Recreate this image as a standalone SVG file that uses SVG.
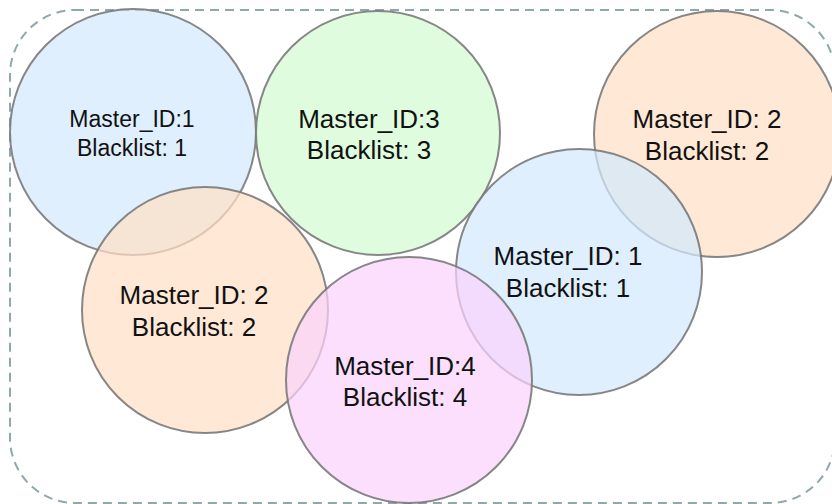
<svg xmlns="http://www.w3.org/2000/svg" width="832" height="504" viewBox="0 0 832 504">
<style>
.c{stroke:#7a7a7a;stroke-width:2;fill-opacity:0.72;stroke-opacity:0.9}
.b{fill:#d2e9fd}
.g{fill:#d4fbd2}
.o{fill:#ffdfc5}
.m{fill:#fad2fb}
text{font-family:"Liberation Sans",Arial,sans-serif;font-size:26px;fill:#111;text-anchor:middle}
.s{font-size:23px}
</style>
<rect x="0" y="0" width="832" height="504" fill="#ffffff"/>
<rect id="container" x="10" y="10" width="825" height="493" rx="65" ry="65" fill="none" stroke="#8fa9ab" stroke-width="2" stroke-dasharray="9 6"/>
<g id="node-blue1">
<circle class="c b" cx="133" cy="132" r="123"/>
<text class="s" x="132" y="127">Master_ID:1</text>
<text class="s" x="132" y="156">Blacklist: 1</text>
</g>
<g id="node-green3">
<circle class="c g" cx="378" cy="133" r="122"/>
<text x="369" y="128">Master_ID:3</text>
<text x="369" y="159">Blacklist: 3</text>
</g>
<g id="node-orange2-right">
<circle class="c o" cx="717" cy="134" r="123"/>
<text x="707" y="128">Master_ID: 2</text>
<text x="707" y="160">Blacklist: 2</text>
</g>
<g id="node-orange2-left">
<circle class="c o" cx="205" cy="310" r="123"/>
<text x="194" y="304">Master_ID: 2</text>
<text x="194" y="336">Blacklist: 2</text>
</g>
<g id="node-blue1-right">
<circle class="c b" cx="579" cy="272" r="123"/>
<text x="568" y="265">Master_ID: 1</text>
<text x="568" y="297">Blacklist: 1</text>
</g>
<g id="node-magenta4">
<circle class="c m" cx="409" cy="380" r="123"/>
<text x="405" y="375">Master_ID:4</text>
<text x="405" y="406">Blacklist: 4</text>
</g>
<g id="connectors"></g>
</svg>
